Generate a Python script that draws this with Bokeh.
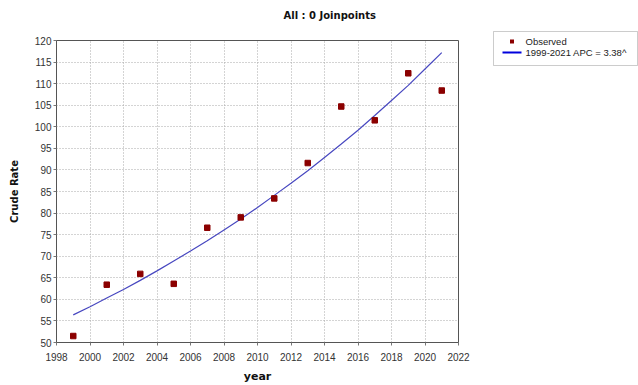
from bokeh.plotting import figure
from bokeh.layouts import column, row
from bokeh.models import Range1d, FixedTicker, Label, BoxAnnotation, ColumnDataSource
from bokeh.embed import file_html
from bokeh.resources import INLINE

# ---- data ----
obs_years = [1999, 2001, 2003, 2005, 2007, 2009, 2011, 2013, 2015, 2017, 2019, 2021]
obs_rate = [51.5, 63.4, 65.9, 63.6, 76.6, 79.0, 83.4, 91.6, 104.7, 101.5, 112.4, 108.4]

fit_years = [1999, 2000, 2001, 2002, 2003, 2004, 2005, 2006, 2007, 2008, 2009, 2010,
             2011, 2012, 2013, 2014, 2015, 2016, 2017, 2018, 2019, 2020, 2021]
fit_rate = [56.4, 58.3, 60.3, 62.3, 64.4, 66.6, 68.9, 71.2, 73.6, 76.1, 78.6, 81.3,
            84.1, 86.9, 89.8, 92.9, 96.0, 99.2, 102.6, 106.1, 109.6, 113.4, 117.2]

x_ticks = [1998, 2000, 2002, 2004, 2006, 2008, 2010, 2012, 2014, 2016, 2018, 2020, 2022]
y_ticks = [50, 55, 60, 65, 70, 75, 80, 85, 90, 95, 100, 105, 110, 115, 120]

title_text = "All : 0 Joinpoints"
x_label = "year"
y_label = "Crude Rate"
legend_labels = ["Observed", "1999-2021 APC  = 3.38^"]

# ---- layout sizes (pixels) ----
TOTAL_W, TOTAL_H = 638, 385
TITLE_H = 24
MAIN_W = 480
LEG_W = TOTAL_W - MAIN_W
BODY_H = TOTAL_H - TITLE_H
FRAME_L, FRAME_R = 56, 458
FRAME_T, FRAME_B = 40 - TITLE_H, 347 - TITLE_H

RED = "#8b0000"
BLUE_FIT = "#4848c0"
BLUE_KEY = "#0000dd"


def bare_figure(w, h):
    f = figure(width=w, height=h, output_backend="svg", toolbar_location=None,
               x_axis_type=None, y_axis_type=None,
               x_range=Range1d(0, w), y_range=Range1d(0, h),
               min_border=0, min_border_left=0, min_border_right=0,
               min_border_top=0, min_border_bottom=0)
    f.title = None
    f.outline_line_color = None
    f.background_fill_color = "white"
    f.border_fill_color = "white"
    f.grid.visible = False
    return f


# ---- title strip (above the main plot) ----
tfig = bare_figure(MAIN_W, TITLE_H)
tfig.add_layout(Label(x=227, y=TITLE_H - 15, x_units="screen", y_units="screen",
                      text=title_text, text_font="DejaVu Sans",
                      text_font_style="bold", text_font_size="10px",
                      text_color="#111111", text_baseline="alphabetic",
                      text_align="left"))

# ---- main plot ----
p = figure(width=MAIN_W, height=BODY_H, output_backend="svg", toolbar_location=None,
           x_range=Range1d(1998, 2022), y_range=Range1d(50, 120),
           min_border_left=FRAME_L, min_border_right=MAIN_W - FRAME_R,
           min_border_top=FRAME_T, min_border_bottom=BODY_H - FRAME_B)
p.background_fill_color = "white"
p.border_fill_color = "white"
p.outline_line_color = "#555555"
p.outline_line_width = 1

p.xaxis.ticker = FixedTicker(ticks=x_ticks)
p.yaxis.ticker = FixedTicker(ticks=y_ticks)
for ax in (p.xaxis, p.yaxis):
    ax.axis_line_color = "#555555"
    ax.major_tick_line_color = "#777777"
    ax.major_tick_out = 3
    ax.major_tick_in = 0
    ax.minor_tick_line_color = None
    ax.major_label_text_font = "Liberation Sans"
    ax.major_label_text_font_size = "10px"
    ax.major_label_text_color = "#333333"
    ax.axis_label_text_font = "DejaVu Sans"
    ax.axis_label_text_font_style = "bold"
    ax.axis_label_text_color = "#111111"
p.xaxis.axis_label = x_label
p.yaxis.axis_label = y_label
p.xaxis.axis_label_text_font_size = "11px"
p.yaxis.axis_label_text_font_size = "10px"
p.xaxis.major_label_standoff = 7
p.yaxis.major_label_standoff = 2
p.xaxis.axis_label_standoff = 6
p.yaxis.axis_label_standoff = 12

for g in (p.xgrid, p.ygrid):
    g.grid_line_color = "#a8a8a8"
    g.grid_line_dash = "1 2"
    g.grid_line_width = 1

fit_src = ColumnDataSource(dict(x=fit_years, y=fit_rate))
obs_src = ColumnDataSource(dict(x=obs_years, y=obs_rate))

p.line("x", "y", source=fit_src, line_color=BLUE_FIT, line_width=1.2)
p.scatter("x", "y", source=obs_src, marker="square", size=5.5,
          fill_color=RED, line_color=RED)

# ---- legend strip (full height, right of the plot) ----
lfig = bare_figure(LEG_W, TOTAL_H)
BOX_L, BOX_R, BOX_T, BOX_B = 13, 157, 31, 65
ROW1, ROW2 = 41, 52
KEY_X0, KEY_X1, TEXT_X = 22, 41, 45


def up(y):
    return TOTAL_H - y


def sbox(l, r, t, b, **kw):
    return BoxAnnotation(left=l, right=r, top=up(t), bottom=up(b),
                         left_units="screen", right_units="screen",
                         top_units="screen", bottom_units="screen", **kw)


lfig.add_layout(sbox(BOX_L, BOX_R, BOX_T, BOX_B, fill_color="white",
                     fill_alpha=1, line_color="#555555", line_width=1))
kx = (KEY_X0 + KEY_X1) / 2
lfig.add_layout(sbox(kx - 2, kx + 2, ROW1 - 2, ROW1 + 2, fill_color=RED,
                     fill_alpha=1, line_color=None))
lfig.add_layout(sbox(KEY_X0, KEY_X1, ROW2 - 1, ROW2 + 1, fill_color=BLUE_KEY,
                     fill_alpha=1, line_color=None))
for txt, ry in zip(legend_labels, [ROW1, ROW2]):
    lfig.add_layout(Label(x=TEXT_X, y=up(ry), x_units="screen", y_units="screen",
                          text=txt, text_font="Liberation Sans",
                          text_font_size="9.5px", text_color="#222222",
                          text_baseline="middle", text_align="left"))

layout = row(column(tfig, p, spacing=0), lfig, spacing=0)
open("out.html", "w").write(file_html(layout, INLINE))
